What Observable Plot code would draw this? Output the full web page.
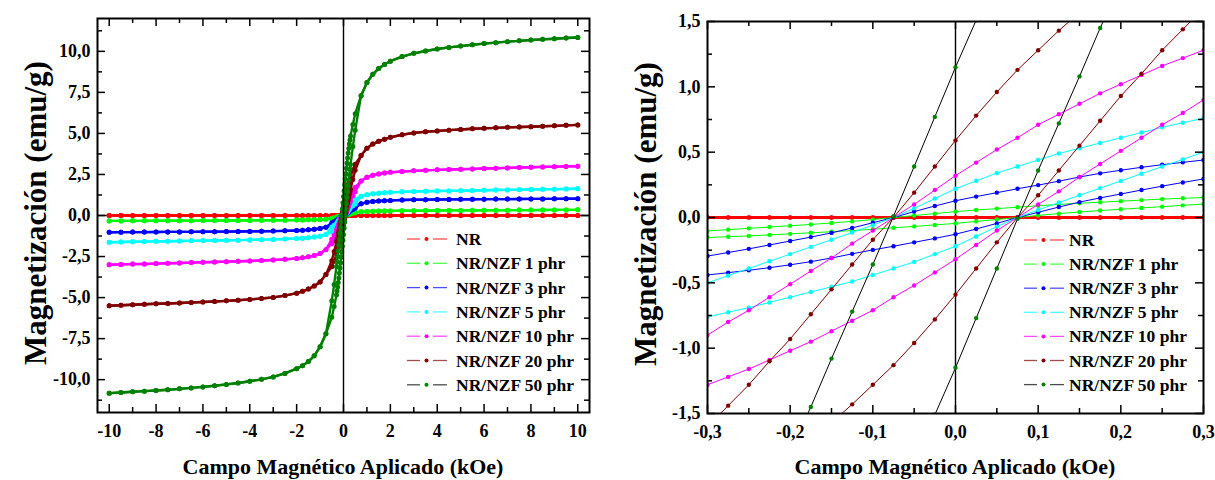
<!DOCTYPE html>
<html>
<head>
<meta charset="utf-8">
<script src="https://cdn.jsdelivr.net/npm/d3@7"></script>
<script src="https://cdn.jsdelivr.net/npm/@observablehq/plot@0.6"></script>
<style>
  html, body { margin: 0; padding: 0; background: #fff; }
  #chart { position: relative; width: 1215px; height: 480px; overflow: hidden; }
  #chart > svg { position: absolute; top: 0; }
</style>
</head>
<body>
<div id="chart"></div>
<script>
// ---- Applied field grid (kOe) ----
// saturation region, listed by magnitude; the negative side uses the same magnitudes
const fieldOuter = [0.75, 1, 1.25, 1.5, 1.75, 2, 2.5, 3, 3.5, 4, 4.5, 5, 5.5, 6, 6.5, 7, 7.5, 8, 8.5, 9, 9.5, 10];
// low-field region where the two sweep branches separate
const fieldInner = [-0.5, -0.4, -0.3, -0.275, -0.25, -0.225, -0.2, -0.175, -0.15, -0.125, -0.1, -0.075, -0.05, -0.025, 0,
  0.025, 0.05, 0.075, 0.1, 0.125, 0.15, 0.175, 0.2, 0.225, 0.25, 0.275, 0.3, 0.4, 0.5];

// ---- Series ----
const seriesNames = ["NR", "NR/NZF 1 phr", "NR/NZF 3 phr", "NR/NZF 5 phr", "NR/NZF 10 phr", "NR/NZF 20 phr", "NR/NZF 50 phr"];
const dotColors  = ["#ff0000", "#00ff00", "#0000ff", "#00ffff", "#ff00ff", "#800000", "#008000"];
const lineColors = ["#ff0000", "#00ff00", "#0000ff", "#00ffff", "#ff00ff", "#800000", "#000000"];

// ---- Magnetization (emu/g) ----
// pos*/neg*: at +fieldOuter / -fieldOuter; down*: field decreasing branch; up*: field increasing branch (both at fieldInner)
const posNR  = [0, 0, 0, 0, 0, 0, 0, 0, 0, 0, 0, 0, 0, 0, 0, 0, 0, 0, 0, 0, 0, 0];
const negNR  = [0, 0, 0, 0, 0, 0, 0, 0, 0, 0, 0, 0, 0, 0, 0, 0, 0, 0, 0, 0, 0, 0];
const downNR = [0, 0, 0, 0, 0, 0, 0, 0, 0, 0, 0, 0, 0, 0, 0, 0, 0, 0, 0, 0, 0, 0, 0, 0, 0, 0, 0, 0, 0];
const upNR   = [0, 0, 0, 0, 0, 0, 0, 0, 0, 0, 0, 0, 0, 0, 0, 0, 0, 0, 0, 0, 0, 0, 0, 0, 0, 0, 0, 0, 0];

const pos1  = [0.23, 0.25, 0.26, 0.27, 0.275, 0.28, 0.29, 0.295, 0.3, 0.305, 0.31, 0.31, 0.315, 0.32, 0.32, 0.325, 0.33, 0.33, 0.335, 0.34, 0.34, 0.345];
const neg1  = [-0.23, -0.25, -0.26, -0.265, -0.27, -0.28, -0.285, -0.29, -0.295, -0.3, -0.305, -0.305, -0.31, -0.31, -0.315, -0.315, -0.32, -0.32, -0.325, -0.325, -0.33, -0.33];
const down1 = [-0.16, -0.135, -0.103, -0.093, -0.083, -0.073, -0.063, -0.053, -0.042, -0.03, -0.016, 0.0, 0.015, 0.03, 0.045,
  0.057, 0.068, 0.079, 0.09, 0.1, 0.109, 0.117, 0.125, 0.133, 0.141, 0.147, 0.153, 0.18, 0.2];
const up1   = [-0.2, -0.18, -0.153, -0.147, -0.141, -0.133, -0.125, -0.117, -0.109, -0.1, -0.09, -0.079, -0.068, -0.057, -0.045,
  -0.03, -0.015, 0.0, 0.016, 0.03, 0.042, 0.053, 0.063, 0.073, 0.083, 0.093, 0.103, 0.135, 0.16];

const pos3  = [0.72, 0.8, 0.85, 0.88, 0.9, 0.92, 0.94, 0.955, 0.965, 0.975, 0.98, 0.985, 0.99, 0.995, 1.0, 1.0, 1.005, 1.01, 1.01, 1.015, 1.02, 1.02];
const neg3  = [-0.71, -0.79, -0.845, -0.875, -0.9, -0.915, -0.935, -0.95, -0.96, -0.97, -0.975, -0.98, -0.985, -0.99, -0.995, -1.0, -1.0, -1.005, -1.01, -1.01, -1.015, -1.02];
const down3 = [-0.44, -0.37, -0.295, -0.268, -0.24, -0.21, -0.18, -0.15, -0.118, -0.08, -0.04, 0.0, 0.045, 0.088, 0.128,
  0.16, 0.19, 0.22, 0.248, 0.278, 0.31, 0.338, 0.362, 0.384, 0.404, 0.422, 0.44, 0.53, 0.6];
const up3   = [-0.6, -0.53, -0.44, -0.422, -0.404, -0.384, -0.362, -0.338, -0.31, -0.278, -0.248, -0.22, -0.19, -0.16, -0.128,
  -0.088, -0.045, 0.0, 0.04, 0.08, 0.118, 0.15, 0.18, 0.21, 0.24, 0.268, 0.295, 0.37, 0.44];

const pos5  = [1.17, 1.27, 1.32, 1.36, 1.39, 1.41, 1.44, 1.46, 1.475, 1.49, 1.5, 1.51, 1.525, 1.535, 1.55, 1.56, 1.57, 1.58, 1.595, 1.605, 1.615, 1.63];
const neg5  = [-1.16, -1.26, -1.315, -1.355, -1.385, -1.405, -1.435, -1.455, -1.47, -1.485, -1.5, -1.51, -1.52, -1.53, -1.545, -1.555, -1.565, -1.575, -1.59, -1.6, -1.615, -1.63];
const down5 = [-0.7, -0.6, -0.5, -0.445, -0.39, -0.335, -0.28, -0.225, -0.17, -0.115, -0.058, 0.0, 0.07, 0.145, 0.22,
  0.28, 0.34, 0.39, 0.44, 0.49, 0.53, 0.57, 0.61, 0.65, 0.69, 0.725, 0.76, 0.9, 1.0];
const up5   = [-1.0, -0.9, -0.76, -0.725, -0.69, -0.65, -0.61, -0.57, -0.53, -0.49, -0.44, -0.39, -0.34, -0.28, -0.22,
  -0.145, -0.07, 0.0, 0.058, 0.115, 0.17, 0.225, 0.28, 0.335, 0.39, 0.445, 0.5, 0.6, 0.7];

const pos10  = [2.1, 2.33, 2.45, 2.53, 2.59, 2.63, 2.68, 2.72, 2.75, 2.78, 2.8, 2.82, 2.84, 2.86, 2.88, 2.9, 2.92, 2.94, 2.96, 2.97, 2.99, 3.0];
const neg10  = [-2.08, -2.32, -2.44, -2.52, -2.58, -2.62, -2.67, -2.71, -2.74, -2.77, -2.79, -2.81, -2.83, -2.85, -2.87, -2.89, -2.91, -2.93, -2.95, -2.96, -2.98, -3.0];
const down10 = [-1.45, -1.2, -0.9, -0.8, -0.71, -0.61, -0.51, -0.41, -0.31, -0.2, -0.1, 0.0, 0.1, 0.21, 0.32,
  0.42, 0.52, 0.61, 0.71, 0.79, 0.87, 0.95, 1.02, 1.09, 1.16, 1.22, 1.28, 1.52, 1.72];
const up10   = [-1.72, -1.52, -1.28, -1.22, -1.16, -1.09, -1.02, -0.95, -0.87, -0.79, -0.71, -0.61, -0.52, -0.42, -0.32,
  -0.21, -0.1, 0.0, 0.1, 0.2, 0.31, 0.41, 0.51, 0.61, 0.71, 0.8, 0.9, 1.2, 1.45];

const pos20  = [3.65, 4.1, 4.35, 4.52, 4.65, 4.76, 4.92, 5.03, 5.1, 5.15, 5.2, 5.24, 5.28, 5.31, 5.34, 5.37, 5.39, 5.41, 5.44, 5.46, 5.49, 5.52];
const neg20  = [-3.6, -4.05, -4.3, -4.48, -4.62, -4.73, -4.88, -4.99, -5.06, -5.11, -5.16, -5.2, -5.24, -5.27, -5.3, -5.33, -5.36, -5.38, -5.41, -5.44, -5.47, -5.5];
const down20 = [-2.75, -2.2, -1.6, -1.44, -1.28, -1.1, -0.93, -0.74, -0.55, -0.36, -0.17, 0.0, 0.19, 0.39, 0.59,
  0.78, 0.96, 1.13, 1.28, 1.43, 1.57, 1.71, 1.84, 1.97, 2.1, 2.22, 2.35, 2.78, 3.12];
const up20   = [-3.12, -2.78, -2.35, -2.22, -2.1, -1.97, -1.84, -1.71, -1.57, -1.43, -1.28, -1.13, -0.96, -0.78, -0.59,
  -0.39, -0.19, 0.0, 0.17, 0.36, 0.55, 0.74, 0.93, 1.1, 1.28, 1.44, 1.6, 2.2, 2.75];

const pos50  = [7.3, 8.1, 8.6, 8.95, 9.2, 9.4, 9.68, 9.88, 10.02, 10.14, 10.24, 10.32, 10.4, 10.47, 10.53, 10.59, 10.64, 10.69, 10.73, 10.77, 10.81, 10.84];
const neg50  = [-7.2, -8.0, -8.55, -8.9, -9.15, -9.33, -9.62, -9.83, -9.98, -10.1, -10.2, -10.29, -10.37, -10.44, -10.5, -10.56, -10.61, -10.66, -10.7, -10.74, -10.78, -10.82];
const down50 = [-5.2, -4.2, -3.1, -2.8, -2.48, -2.15, -1.8, -1.45, -1.08, -0.72, -0.36, 0.01, 0.39, 0.77, 1.15,
  1.51, 1.88, 2.22, 2.55, 2.88, 3.2, 3.5, 3.8, 4.08, 4.35, 4.6, 4.85, 5.55, 6.2];
const up50   = [-6.2, -5.55, -4.85, -4.6, -4.35, -4.08, -3.8, -3.5, -3.2, -2.88, -2.55, -2.22, -1.88, -1.51, -1.15,
  -0.77, -0.39, -0.01, 0.36, 0.72, 1.08, 1.45, 1.8, 2.15, 2.48, 2.8, 3.1, 4.2, 5.2];

// ---- Axis ticks ----
const xMajorLeft  = [-10, -8, -6, -4, -2, 0, 2, 4, 6, 8, 10];
const xMinorLeft  = [-9, -7, -5, -3, -1, 1, 3, 5, 7, 9];
const yMajorLeft  = [-10, -7.5, -5, -2.5, 0, 2.5, 5, 7.5, 10];
const yMinorLeft  = [-11.25, -8.75, -6.25, -3.75, -1.25, 1.25, 3.75, 6.25, 8.75, 11.25];
const xMajorRight = [-0.3, -0.2, -0.1, 0, 0.1, 0.2, 0.3];
const xMinorRight = [-0.25, -0.15, -0.05, 0.05, 0.15, 0.25];
const yMajorRight = [-1.5, -1, -0.5, 0, 0.5, 1, 1.5];
const yMinorRight = [-1.25, -0.75, -0.25, 0.25, 0.75, 1.25];

// ---- Build the measured loops (field sweep order) ----
const loops = [
  [posNR, negNR, downNR, upNR],
  [pos1, neg1, down1, up1],
  [pos3, neg3, down3, up3],
  [pos5, neg5, down5, up5],
  [pos10, neg10, down10, up10],
  [pos20, neg20, down20, up20],
  [pos50, neg50, down50, up50]
];

function loopRows([pos, neg, down, up]) {
  const rows = [];
  const n = fieldOuter.length, m = fieldInner.length;
  // sweep from +10 kOe down to -10 kOe
  for (let i = n - 1; i >= 0; i--) rows.push({H: fieldOuter[i], M: pos[i], branch: "down"});
  for (let i = m - 1; i >= 0; i--) rows.push({H: fieldInner[i], M: down[i], branch: "down"});
  for (let i = 0; i < n; i++) rows.push({H: -fieldOuter[i], M: neg[i], branch: "down"});
  // sweep back from -10 kOe up to +10 kOe
  for (let i = n - 1; i >= 0; i--) rows.push({H: -fieldOuter[i], M: neg[i], branch: "up"});
  for (let i = 0; i < m; i++) rows.push({H: fieldInner[i], M: up[i], branch: "up"});
  for (let i = 0; i < n; i++) rows.push({H: fieldOuter[i], M: pos[i], branch: "up"});
  return rows;
}
const loopData = loops.map(loopRows);

const FONT = '"Liberation Serif", "Times New Roman", serif';
const comma1 = d => d.toFixed(1).replace(".", ",");

function panel(o) {
  const innerW = o.width - o.ml - o.mr;
  const innerH = o.height - o.mt - o.mb;
  const tk = {stroke: "black", strokeWidth: 1.5};
  const marks = [];
  if (o.zeroRow) marks.push(Plot.ruleY([0], {stroke: "black", strokeWidth: 1.4}));
  if (o.zeroColumnBelow) marks.push(Plot.ruleX([0], {stroke: "black", strokeWidth: 1.4}));
  loopData.forEach((rows, k) => {
    marks.push(Plot.line(rows, {
      x: "H", y: "M", z: "branch",
      stroke: o.strokes[k],
      strokeWidth: k === 0 ? o.nrWidth : o.lineWidth,
      clip: true
    }));
    marks.push(Plot.dot(rows, {x: "H", y: "M", r: o.dotR, fill: dotColors[k], clip: true}));
  });
  if (!o.zeroColumnBelow) marks.push(Plot.ruleX([0], {stroke: "black", strokeWidth: 1.4}));
  // inward ticks on all four sides
  const ticksX = (vals, len) => [
    Plot.tickX(vals, {x: d => d, insetTop: innerH - len, ...tk}),
    Plot.tickX(vals, {x: d => d, insetBottom: innerH - len, ...tk})
  ];
  const ticksY = (vals, len) => [
    Plot.tickY(vals, {y: d => d, insetRight: innerW - len, ...tk}),
    Plot.tickY(vals, {y: d => d, insetLeft: innerW - len, ...tk})
  ];
  marks.push(...ticksX(o.xMajor, 8), ...ticksX(o.xMinor, 5), ...ticksY(o.yMajor, 8), ...ticksY(o.yMinor, 5));
  marks.push(Plot.axisX(o.xMajor, {anchor: "bottom", tickSize: 0, tickPadding: 12, tickFormat: o.xFmt, label: null}));
  marks.push(Plot.axisY(o.yMajor, {anchor: "left", tickSize: 0, tickPadding: 7, tickFormat: o.yFmt, label: null}));
  marks.push(Plot.frame({stroke: "black", strokeWidth: 2}));
  return Plot.plot({
    width: o.width, height: o.height,
    marginLeft: o.ml, marginRight: o.mr, marginTop: o.mt, marginBottom: o.mb,
    x: {domain: o.xDomain},
    y: {domain: o.yDomain},
    style: {fontFamily: FONT, fontSize: "18px", fontWeight: "bold", color: "black", background: "transparent"},
    marks
  });
}

const chart = document.getElementById("chart");

// full loops: dense beaded curves, connecting line in each series' dot colour
const leftPlot = panel({
  width: 600, height: 480, ml: 97, mr: 11, mt: 18, mb: 68,
  xDomain: [-10.5, 10.5], yDomain: [-12, 12],
  xMajor: xMajorLeft, xMinor: xMinorLeft, yMajor: yMajorLeft, yMinor: yMinorLeft,
  xFmt: d => String(d), yFmt: comma1,
  strokes: dotColors, lineWidth: 2.4, nrWidth: 2.4, dotR: 2.5, zeroRow: true, zeroColumnBelow: false
});
leftPlot.style.left = "0px";
chart.appendChild(leftPlot);

// low-field detail
const rightPlot = panel({
  width: 615, height: 480, ml: 107, mr: 12, mt: 21, mb: 67,
  xDomain: [-0.3, 0.3], yDomain: [-1.5, 1.5],
  xMajor: xMajorRight, xMinor: xMinorRight, yMajor: yMajorRight, yMinor: yMinorRight,
  xFmt: comma1, yFmt: comma1,
  strokes: lineColors, lineWidth: 1, nrWidth: 3, dotR: 2.2, zeroRow: false, zeroColumnBelow: true
});
rightPlot.style.left = "600px";
chart.appendChild(rightPlot);

// ---- Titles and legends ----
const overlay = d3.select(chart).append("svg")
  .attr("width", 1215).attr("height", 480)
  .style("left", "0px").style("pointer-events", "none")
  .attr("font-family", FONT).attr("font-weight", "bold").attr("fill", "black");

const xTitle = "Campo Magnético Aplicado (kOe)";
const yTitle = "Magnetización (emu/g)";
[[343, 45.5, 213], [955, 656, 214]].forEach(([cx, by, cy]) => {
  overlay.append("text").attr("x", cx).attr("y", 474).attr("text-anchor", "middle")
    .attr("font-size", 22).text(xTitle);
  overlay.append("text").attr("transform", `translate(${by},${cy}) rotate(-90)`)
    .attr("text-anchor", "middle").attr("font-size", 31).text(yTitle);
});

function legend(x0, y0, step, textX) {
  seriesNames.forEach((name, i) => {
    const y = y0 + i * step;
    const g = overlay.append("g");
    [[x0, x0 + 13], [x0 + 26, x0 + 40]].forEach(([a, b]) =>
      g.append("line").attr("x1", a).attr("x2", b).attr("y1", y).attr("y2", y)
        .attr("stroke", lineColors[i]).attr("stroke-opacity", 0.7).attr("stroke-width", 1.3));
    g.append("circle").attr("cx", x0 + 19.5).attr("cy", y).attr("r", 2).attr("fill", dotColors[i]);
    g.append("text").attr("x", textX).attr("y", y + 6).attr("font-size", 17.5).text(name);
  });
}
legend(407, 239, 24.3, 456);
legend(1024, 240, 24.1, 1069);
</script>
</body>
</html>
